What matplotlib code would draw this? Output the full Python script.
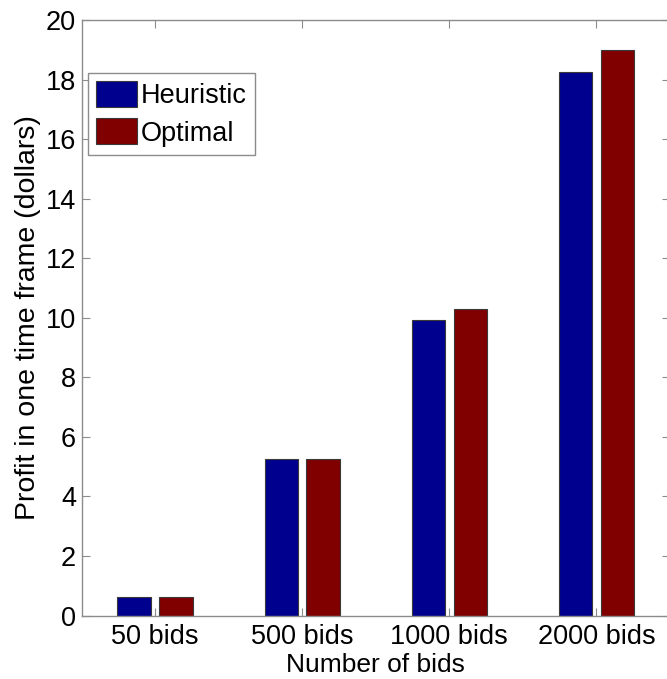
import numpy as np
import matplotlib.pyplot as plt

categories = ['50 bids', '500 bids', '1000 bids', '2000 bids']
heuristic = [0.62, 5.25, 9.93, 18.27]
optimal = [0.62, 5.25, 10.29, 18.99]

plt.rcParams['font.family'] = ['Liberation Sans', 'DejaVu Sans']
axis_grey = '#8c8c8c'

fig = plt.figure(figsize=(6.67, 6.79), dpi=100)
ax = fig.add_axes([0.1222, 0.0935, 0.8823, 0.8766])

x = np.arange(1, len(categories) + 1)
w = 0.227
off = 0.142
ax.bar(x - off, heuristic, w, color='#00008f', edgecolor='#3a3a3a', linewidth=0.8, label='Heuristic')
ax.bar(x + off, optimal, w, color='#800000', edgecolor='#3a3a3a', linewidth=0.8, label='Optimal')

ax.set_xlim(0.5, 4.5)
ax.set_ylim(0, 20)
ax.set_xticks(x)
ax.set_xticklabels(categories)
ax.set_yticks(np.arange(0, 21, 2))

for s in ax.spines.values():
    s.set_color(axis_grey)
    s.set_linewidth(1.0)
ax.tick_params(direction='in', length=6, width=0.8, color=axis_grey,
               labelsize=19.5, labelcolor='black', top=True, right=True)
ax.tick_params(axis='y', pad=4)
ax.tick_params(axis='x', pad=6)

ax.set_xlabel('Number of bids', fontsize=19, labelpad=2)
ax.set_ylabel('Profit in one time frame (dollars)', fontsize=20.5, labelpad=3)

leg = ax.legend(loc='upper left', bbox_to_anchor=(0.011, 0.912), borderaxespad=0,
                fontsize=19.5, fancybox=False, framealpha=1, edgecolor=axis_grey,
                handlelength=1.5, handleheight=1.1, handletextpad=0.15,
                labelspacing=0.35, borderpad=0.3)
leg.get_frame().set_linewidth(1.0)

fig.savefig('out.png', dpi=100)
